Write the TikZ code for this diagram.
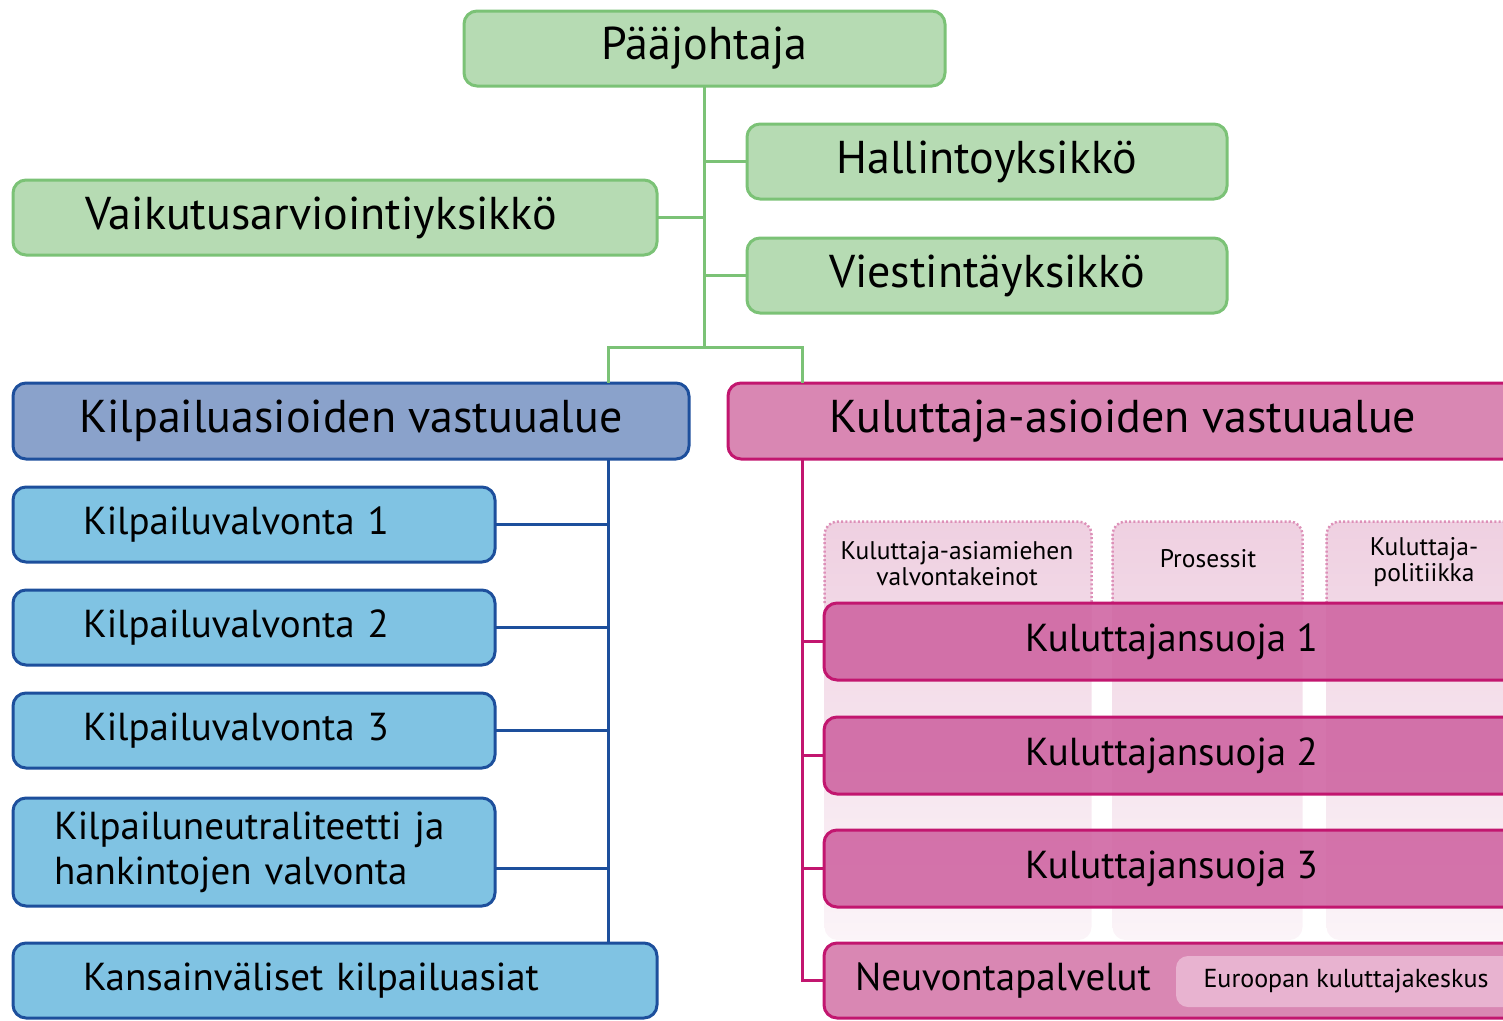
\documentclass[tikz,border=0pt]{standalone}
\usepackage{fontspec}
\setmainfont{PT Sans}
\definecolor{gfill}{HTML}{B6DBB3}
\definecolor{gline}{HTML}{7BC276}
\definecolor{bhfill}{HTML}{8AA2CB}
\definecolor{bline}{HTML}{1D4F9C}
\definecolor{bfill}{HTML}{80C3E3}
\definecolor{phfill}{HTML}{D987B3}
\definecolor{pline}{HTML}{C2166F}
\definecolor{pfill}{HTML}{CE62A0}
\definecolor{colA}{HTML}{EFD0E1}
\definecolor{colB}{HTML}{FBF4F8}
\definecolor{dotc}{HTML}{DD90B8}
\definecolor{eufill}{HTML}{E8B3D0}
\tikzset{
  box/.style={rounded corners=13pt, line width=3pt, inner sep=0pt, outer sep=0pt, anchor=north west},
  bigfont/.style={font=\fontsize{46}{50}\selectfont},
  midfont/.style={font=\fontsize{39}{45}\selectfont},
  gbox/.style={box, bigfont, draw=gline, fill=gfill, minimum height=75pt},
  bhead/.style={box, bigfont, draw=bline, fill=bhfill, minimum height=76pt},
  phead/.style={box, bigfont, draw=pline, fill=phfill, minimum height=76pt},
  bbox/.style={box, midfont, draw=bline, fill=bfill, minimum height=75pt},
  pbox/.style={box, midfont, draw=pline, fill=pfill, fill opacity=0.88, text opacity=1, minimum height=77pt},
  leftpad/.style 2 args={align=left, inner xsep=#1, text width=#2},
  gconn/.style={draw=gline, line width=3pt},
  bconn/.style={draw=bline, line width=3pt},
  pconn/.style={draw=pline, line width=3pt},
  colbg/.style={rounded corners=13pt, top color=colA, bottom color=colB},
  coldots/.style={draw=dotc, line width=2.5pt, dash pattern=on 2pt off 2.2pt, rounded corners=13pt},
  collabel/.style={font=\fontsize{25.5}{26}\selectfont, align=center},
}
\begin{document}
\begin{tikzpicture}[x=1pt, y=-1pt]
\useasboundingbox (0,0) rectangle (1503,1020);
\clip (0,0) rectangle (1503,1020);

% background columns
\shade[colbg] (824.5,940) rectangle (1091.5,521.5);
\shade[colbg] (1112.5,940) rectangle (1302.5,521.5);
\shade[colbg] (1326.5,940) rectangle (1530,521.5);
\draw[coldots] (824.5,603) -- (824.5,521.5) -- (1091.5,521.5) -- (1091.5,603);
\draw[coldots] (1112.5,603) -- (1112.5,521.5) -- (1302.5,521.5) -- (1302.5,603);
\draw[coldots] (1326.5,603) -- (1326.5,521.5) -- (1530,521.5) -- (1530,603);
\node[collabel] (c1) at (957,564) {Kuluttaja-asiamiehen\\valvontakeinot};
\node[collabel] (c2) at (1208,559) {Prosessit};
\node[collabel] (c3) at (1424,562) {Kuluttaja-\\politiikka};

% top level
\node[gbox, minimum width=481pt] (paa) at (464,11) {Pääjohtaja};
\node[gbox, minimum width=480pt] (hal) at (747,124) {Hallintoyksikkö};
\node[gbox, minimum width=480pt] (vie) at (747,238) {Viestintäyksikkö};
\node[gbox, minimum width=644pt, leftpad={72pt}{500pt}] (vai) at (13,180) {Vaikutusarviointiyksikkö};

% headers
\node[bhead, minimum width=676pt] (kil) at (13,383) {Kilpailuasioiden vastuualue};
\node[phead, minimum width=790pt] (kul) at (728,383) {Kuluttaja-asioiden vastuualue};

% blue units
\node[bbox, minimum width=482pt, leftpad={70pt}{342pt}] (kv1) at (13,487) {Kilpailuvalvonta 1};
\node[bbox, minimum width=482pt, leftpad={70pt}{342pt}] (kv2) at (13,590) {Kilpailuvalvonta 2};
\node[bbox, minimum width=482pt, leftpad={70pt}{342pt}] (kv3) at (13,693) {Kilpailuvalvonta 3};
\node[bbox, minimum width=482pt, minimum height=108pt, leftpad={41pt}{400pt}] (kne) at (13,798) {Kilpailuneutraliteetti ja\\hankintojen valvonta};
\node[bbox, minimum width=644pt, leftpad={70pt}{504pt}] (kan) at (13,943) {Kansainväliset kilpailuasiat};

% pink units
\node[pbox, minimum width=695pt] (ks1) at (824,603) {Kuluttajansuoja 1};
\node[pbox, minimum width=695pt] (ks2) at (824,717) {Kuluttajansuoja 2};
\node[pbox, minimum width=695pt] (ks3) at (824,830) {Kuluttajansuoja 3};
\node[box, midfont, draw=pline, fill=phfill, minimum height=75pt, minimum width=695pt, leftpad={31pt}{633pt}] (neu) at (824,943) {Neuvontapalvelut};
\node[box, draw=none, fill=eufill, rounded corners=12pt, minimum width=340pt, minimum height=51pt, font=\fontsize{26}{28}\selectfont] (eu) at (1176,956) {Euroopan kuluttajakeskus};

% connectors
\path (paa.south) ++(0,261) coordinate (gj);
\coordinate (btx) at (608,0);
\coordinate (ptx) at (802,0);
\draw[gconn] (paa.south) -- (gj);
\draw[gconn] (hal.west) -- (hal.west -| gj);
\draw[gconn] (vie.west) -- (vie.west -| gj);
\draw[gconn] (vai.east) -- (vai.east -| gj);
\draw[gconn] (kil.north -| btx) |- (gj) -| (kul.north -| ptx);

\draw[bconn] (kil.south -| btx) -- (kan.north -| btx);
\draw[bconn] (kv1.east) -- (kv1.east -| btx);
\draw[bconn] (kv2.east) -- (kv2.east -| btx);
\draw[bconn] (kv3.east) -- (kv3.east -| btx);
\draw[bconn] (kne.east) ++(0,16) coordinate (kneC) -- (kneC -| btx);

\draw[pconn] (kul.south -| ptx) |- (neu.west);
\draw[pconn] (ks1.west) -- (ks1.west -| ptx);
\draw[pconn] (ks2.west) -- (ks2.west -| ptx);
\draw[pconn] (ks3.west) -- (ks3.west -| ptx);
\end{tikzpicture}
\end{document}
